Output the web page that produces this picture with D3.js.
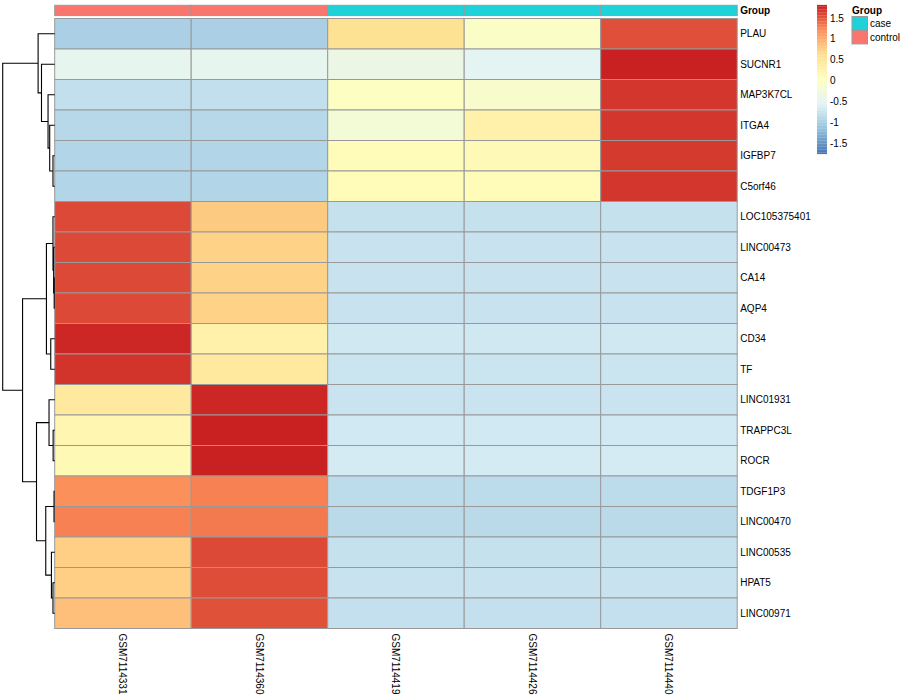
<!DOCTYPE html>
<html><head><meta charset="utf-8">
<script src="https://cdn.jsdelivr.net/npm/d3@7"></script>
<style>body{margin:0;background:#fff} text{font-family:"Liberation Sans",Arial,Helvetica,sans-serif}</style>
</head><body><svg id="c" width="900" height="700"></svg>
<script>
// ---------------- data ----------------
const genes = ["PLAU","SUCNR1","MAP3K7CL","ITGA4","IGFBP7","C5orf46","LOC105375401","LINC00473","CA14","AQP4","CD34","TF","LINC01931","TRAPPC3L","ROCR","TDGF1P3","LINC00470","LINC00535","HPAT5","LINC00971"];
const samples = ["GSM7114331","GSM7114360","GSM7114419","GSM7114426","GSM7114440"];
const groups = ["control","control","case","case","case"];
const groupLevels = ["case","control"];
const groupColors = ["#1DD3D9","#F9766E"];
// z-scored expression, one array per gene (rows in display order)
const values = [
  [-0.95,-0.95, 0.58,-0.05, 1.55],
  [-0.45,-0.45,-0.35,-0.50, 1.80],
  [-0.78,-0.78, 0.00,-0.10, 1.68],
  [-0.86,-0.86,-0.20, 0.30, 1.68],
  [-0.90,-0.90, 0.12, 0.14, 1.66],
  [-0.90,-0.90, 0.10, 0.12, 1.68],
  [ 1.58, 0.78,-0.76,-0.76,-0.76],
  [ 1.58, 0.72,-0.74,-0.74,-0.74],
  [ 1.58, 0.72,-0.74,-0.74,-0.74],
  [ 1.58, 0.72,-0.74,-0.74,-0.74],
  [ 1.76, 0.30,-0.68,-0.68,-0.68],
  [ 1.70, 0.45,-0.72,-0.72,-0.72],
  [ 0.45, 1.76,-0.73,-0.73,-0.73],
  [ 0.20, 1.80,-0.67,-0.67,-0.67],
  [ 0.15, 1.80,-0.65,-0.65,-0.65],
  [ 1.20, 1.28,-0.82,-0.82,-0.82],
  [ 1.28, 1.32,-0.84,-0.84,-0.84],
  [ 0.75, 1.58,-0.76,-0.76,-0.76],
  [ 0.75, 1.56,-0.74,-0.74,-0.74],
  [ 0.86, 1.54,-0.77,-0.77,-0.77]
];
const valueRange = [-1.74, 1.81];
const legendTicks = [-1.5,-1,-0.5,0,0.5,1,1.5];
const paletteColors = ["#4575B4","#91BFDB","#E0F3F8","#FFFFBF","#FEE090","#FC8D59","#C81E20"];
// row dendrogram as hclust merges: [a, b, height]; negative = leaf (1-based row), positive = earlier merge (1-based)
const rowMerge = [
  [-9,-10,0.10],
  [-16,-17,0.13],
  [-8,1,0.20],
  [-5,-6,0.33],
  [-7,3,0.33],
  [-14,-15,0.30],
  [-19,-20,0.33],
  [-18,7,0.63],
  [-11,-12,0.76],
  [-4,4,0.96],
  [-13,6,1.09],
  [-3,10,1.28],
  [5,9,1.59],
  [2,8,1.72],
  [-2,12,2.54],
  [-1,15,3.19],
  [11,14,3.50],
  [13,17,6.18],
  [16,18,10.0]
];

// ---------------- layout ----------------
const svg = d3.select("#c");
const hmLeft = 54.7, hmRight = 737.2, hmTop = 18.5, hmBottom = 628.5;
const annTop = 5.3, annBottom = 15.6;
const x = d3.scaleBand().domain(samples).range([hmLeft, hmRight]);
const y = d3.scaleBand().domain(genes).range([hmTop, hmBottom]);
const colorDomain = d3.range(paletteColors.length).map(i => valueRange[0] + i*(valueRange[1]-valueRange[0])/(paletteColors.length-1));
const color = d3.scaleLinear().domain(colorDomain).range(paletteColors).clamp(true);
const gcol = d3.scaleOrdinal().domain(groupLevels).range(groupColors);
const border = "#999999";

// heatmap cells
const cells = [];
values.forEach((row, i) => row.forEach((v, j) => cells.push({g: genes[i], s: samples[j], v})));
svg.append("g").selectAll("rect").data(cells).join("rect")
  .attr("x", d => x(d.s)).attr("y", d => y(d.g))
  .attr("width", x.bandwidth()).attr("height", y.bandwidth())
  .attr("fill", d => color(d.v)).attr("stroke", border).attr("stroke-width", 1);

// annotation bar
svg.append("g").selectAll("rect").data(samples).join("rect")
  .attr("x", d => x(d)).attr("y", annTop)
  .attr("width", x.bandwidth()).attr("height", annBottom - annTop)
  .attr("fill", (d, i) => gcol(groups[i])).attr("stroke", border).attr("stroke-width", 1);
svg.append("text").attr("x", hmRight + 3).attr("y", (annTop + annBottom)/2).attr("dy", "0.35em")
  .attr("font-size", 10).attr("font-weight", "bold").text("Group");

// row labels
svg.append("g").selectAll("text").data(genes).join("text")
  .attr("x", hmRight + 3).attr("y", d => y(d) + y.bandwidth()/2).attr("dy", "0.35em")
  .attr("font-size", 10).text(d => d);

// column labels (rotated, reading downward)
svg.append("g").selectAll("text").data(samples).join("text")
  .attr("transform", d => `translate(${x(d) + x.bandwidth()/2},${hmBottom + 5}) rotate(90)`)
  .attr("dy", "0.35em").attr("font-size", 10).text(d => d);

// row dendrogram
const leafX = hmLeft, rootX = 2.7;
const maxH = d3.max(rowMerge, d => d[2]);
const hx = d3.scaleLinear().domain([0, maxH]).range([leafX, rootX]);
const nodes = [];
function pos(id) {
  if (id < 0) return {x: hx(0), y: y(genes[-id - 1]) + y.bandwidth()/2};
  return nodes[id - 1];
}
const paths = [];
rowMerge.forEach(([a, b, h]) => {
  const pa = pos(a), pb = pos(b);
  const nx = hx(h), ny = (pa.y + pb.y) / 2;
  nodes.push({x: nx, y: ny});
  paths.push(`M${pa.x},${pa.y}H${nx}V${pb.y}H${pb.x}`);
});
svg.append("g").selectAll("path").data(paths).join("path")
  .attr("d", d => d).attr("fill", "none").attr("stroke", "#000").attr("stroke-width", 1.1);

// colour legend
const ly = d3.scaleLinear().domain(valueRange).range([154, 5]);
const nSteps = 100;
const steps = d3.range(nSteps).map(i => valueRange[0] + (i + 0.5)*(valueRange[1]-valueRange[0])/nSteps);
const stepH = (154 - 5) / nSteps;
svg.append("g").selectAll("rect").data(steps).join("rect")
  .attr("x", 817).attr("width", 10)
  .attr("y", d => ly(d) - stepH/2 - 0.1).attr("height", stepH + 0.2)
  .attr("fill", d => color(d));
svg.append("g").selectAll("text").data(legendTicks).join("text")
  .attr("x", 830).attr("y", d => ly(d)).attr("dy", "0.35em").attr("font-size", 10)
  .text(d => d);

// group legend
svg.append("text").attr("x", 852).attr("y", 10).attr("dy", "0.35em")
  .attr("font-size", 10).attr("font-weight", "bold").text("Group");
svg.append("g").selectAll("rect").data(groupLevels).join("rect")
  .attr("x", 852).attr("y", (d, i) => 16.5 + i*13.7).attr("width", 15.5).attr("height", 13.7)
  .attr("fill", d => gcol(d)).attr("stroke", border).attr("stroke-width", 1);
svg.append("g").selectAll("text").data(groupLevels).join("text")
  .attr("x", 870).attr("y", (d, i) => 16.5 + i*13.7 + 6.85).attr("dy", "0.35em")
  .attr("font-size", 10).text(d => d);
</script></body></html>
